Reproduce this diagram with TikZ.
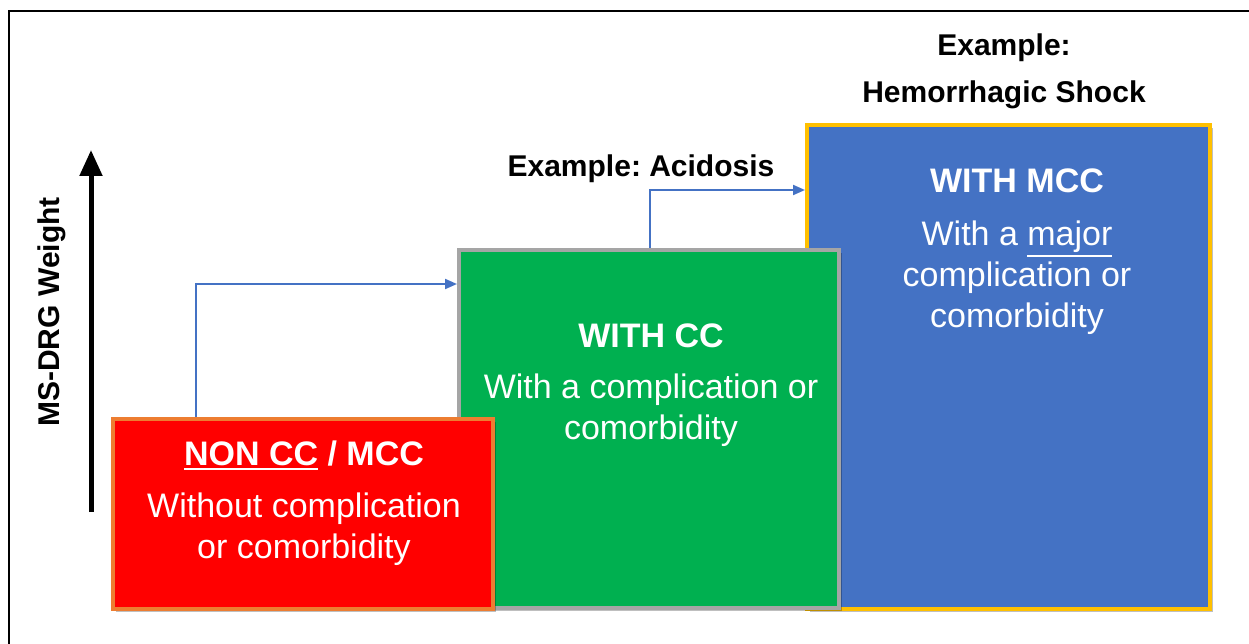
\documentclass[tikz,border=0pt]{standalone}
\usepackage{fontspec}
\setmainfont{Liberation Sans}
\usetikzlibrary{arrows.meta,shadows}
\definecolor{cred}{HTML}{FF0000}
\definecolor{corange}{HTML}{ED7D31}
\definecolor{cgreen}{HTML}{00B050}
\definecolor{cgray}{HTML}{A5A5A5}
\definecolor{cblue}{HTML}{4472C4}
\definecolor{cgold}{HTML}{FFC000}
\frenchspacing
\newcommand{\myul}[1]{\leavevmode\vtop{\hbox{#1}\kern2.5pt\hrule height 2pt}}
\tikzset{
  box/.style={rectangle, line width=4pt, inner sep=0pt,
    drop shadow={shadow xshift=3pt, shadow yshift=-3pt, opacity=0.25, fill=black}},
  ttl/.style={anchor=base, text=white, font=\fontsize{34}{41}\selectfont\bfseries, inner sep=0pt},
  body/.style={anchor=base, text=white, font=\fontsize{34}{41}\selectfont, align=center, inner sep=0pt},
  lbl/.style={anchor=base, text=black, font=\fontsize{30}{36}\selectfont\bfseries, inner sep=0pt},
  flow/.style={draw=cblue, line width=2pt, -{Triangle[length=12pt,width=10pt]}},
}
\begin{document}
\begin{tikzpicture}[x=1pt,y=-1pt]
\useasboundingbox (0,0) rectangle (1249,644);
\fill[white] (0,0) rectangle (1249,644);
\draw[line width=2pt] (8.5,11.5) rectangle (1280,680);
% boxes
\node[box, draw=cgold, fill=cblue, minimum width=403pt, minimum height=484pt] (mcc) at (1008.5,367) {};
\node[box, draw=cgray, fill=cgreen, minimum width=380pt, minimum height=358pt] (cc) at (649,429) {};
\node[box, draw=corange, fill=cred, minimum width=380pt, minimum height=190pt] (non) at (303,514) {};
% texts (body nodes: base = baseline of last line)
\node[ttl] (nont) at (304,465) {\myul{NON CC} / MCC};
\node[body] (nonb) at (304,558) {Without complication\\or comorbidity};
\node[ttl] (cct) at (651,347) {WITH CC};
\node[body] (ccb) at (651,439) {With a complication or\\comorbidity};
\node[ttl] (mcct) at (1017,193) {WITH MCC};
\node[body] (mccb) at (1017,327) {With a \myul{major}\\complication or\\comorbidity};
% example labels
\node[lbl] (ex1) at (641,177) {Example: Acidosis};
\node[lbl] (ex2a) at (1004,56) {Example:};
\node[lbl] (ex2b) at (1004,103) {Hemorrhagic Shock};
% axis
\coordinate (ab) at (91,512);
\coordinate (at) at (91,150);
\draw[line width=5pt, -{Triangle[length=26pt,width=22pt]}] (ab) -- (at);
\node[lbl, anchor=center, rotate=90] (axis) at (52,312) {MS-DRG Weight};
% flow arrows
\coordinate (s1) at (196,417);
\coordinate (s2) at (650,248);
\draw[flow] (s1) |- (cc.west |- 0,284);
\draw[flow] (s2) |- (mcc.west |- 0,190);
\end{tikzpicture}
\end{document}
